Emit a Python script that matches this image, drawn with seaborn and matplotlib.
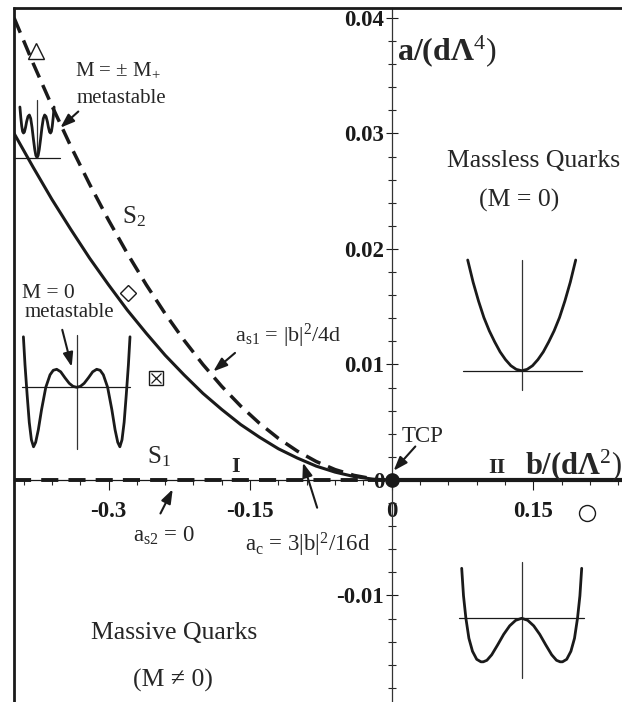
import matplotlib
matplotlib.use("Agg")
import matplotlib.pyplot as plt
import seaborn as sns
from matplotlib.ticker import MultipleLocator

# phase boundaries: b/(d L^2) vs a/(d L^4)
b_curve = [-0.40, -0.38, -0.36, -0.34, -0.32, -0.30, -0.28, -0.26, -0.24, -0.22, -0.20,
           -0.18, -0.16, -0.14, -0.12, -0.10, -0.08, -0.06, -0.04, -0.02, 0.0]
a_c = [0.0300, 0.0271, 0.0243, 0.0217, 0.0192, 0.0169, 0.0147, 0.0127, 0.0108, 0.0091, 0.0075,
       0.0061, 0.0048, 0.0037, 0.0027, 0.0019, 0.0012, 0.00068, 0.0003, 0.000075, 0.0]
a_s1 = [0.0400, 0.0361, 0.0324, 0.0289, 0.0256, 0.0225, 0.0196, 0.0169, 0.0144, 0.0121, 0.0100,
        0.0081, 0.0064, 0.0049, 0.0036, 0.0025, 0.0016, 0.0009, 0.0004, 0.0001, 0.0]
b_as2 = [-0.40, -0.005]
a_as2 = [0.0, 0.0]
b_second = [0.0, 0.25]
a_second = [0.0, 0.0]

# reference symbols
sym_triangle = (-0.377, 0.0371)
sym_diamond = (-0.279, 0.0162)
sym_boxx = (-0.250, 0.0088)
sym_circle = (0.207, -0.0029)

# potential sketches (left half, mirrored): M and V in sketch units
m_mplus = [-0.76, -0.72, -0.68, -0.64, -0.60, -0.56, -0.51, -0.46, -0.40, -0.34, -0.28, -0.22, -0.16, -0.10, -0.05, 0.0]
v_mplus = [1.01, 0.80, 0.63, 0.52, 0.49, 0.51, 0.60, 0.72, 0.82, 0.85, 0.78, 0.60, 0.37, 0.16, 0.04, 0.0]
m_meta0 = [-1.00, -0.97, -0.93, -0.89, -0.85, -0.81, -0.77, -0.72, -0.66, -0.58, -0.50, -0.44, -0.375, -0.30, -0.22, -0.14, -0.07, 0.0]
v_meta0 = [1.01, 0.45, -0.15, -0.70, -1.05, -1.19, -1.10, -0.85, -0.45, 0.00, 0.25, 0.34, 0.36, 0.31, 0.19, 0.08, 0.02, 0.0]
m_massless = [-1.0, -0.9, -0.8, -0.7, -0.6, -0.5, -0.4, -0.3, -0.2, -0.1, 0.0]
v_massless = [1.0, 0.80, 0.63, 0.48, 0.36, 0.26, 0.17, 0.10, 0.045, 0.012, 0.0]
m_massive = [-1.00, -0.97, -0.93, -0.88, -0.82, -0.75, -0.68, -0.64, -0.58, -0.50, -0.40, -0.30, -0.20, -0.10, 0.0]
v_massive = [1.00, 0.45, 0.00, -0.40, -0.66, -0.82, -0.87, -0.87, -0.84, -0.73, -0.53, -0.32, -0.15, -0.04, 0.0]

W, H = 622, 702


def mirror(m, v):
	mm = list(m) + [-x for x in m[-2::-1]]
	vv = list(v) + list(v[-2::-1])
	return mm, vv


def sketch(fig, cx, cy, sx, sy, m, v, hline, vline, yr=(-1.4, 1.3)):
	# cx, cy: pixel position of the sketch origin, sx, sy: pixels per unit
	x0, x1 = -1.25, 1.25
	y0, y1 = yr
	left = (cx + x0 * sx) / W
	top = cy - y1 * sy
	bottom = cy - y0 * sy
	axi = fig.add_axes([left, 1 - bottom / H, (x1 - x0) * sx / W, (bottom - top) / H])
	axi.set_xlim(x0, x1)
	axi.set_ylim(y0, y1)
	axi.axis('off')
	axi.plot(hline, [0, 0], color='k', lw=0.9)
	axi.plot([0, 0], vline, color='#333333', lw=0.9)
	mm, vv = mirror(m, v)
	sns.lineplot(x=mm, y=vv, ax=axi, color='k', lw=2.0, sort=False, estimator=None)
	return axi


def main():
	sns.set_theme(style="white")
	plt.rcParams['font.family'] = ['Liberation Serif', 'DejaVu Serif']
	plt.rcParams['mathtext.fontset'] = 'custom'
	plt.rcParams['mathtext.rm'] = 'Liberation Serif'
	plt.rcParams['mathtext.it'] = 'Liberation Serif:italic'
	plt.rcParams['mathtext.bf'] = 'Liberation Serif:bold'

	fig = plt.figure(figsize=(6.22, 7.02), dpi=100)
	ax = fig.add_axes([0.0227, -0.0128, 0.9865, 1.002])
	ax.set_xlim(-0.4, 0.25)
	ax.set_ylim(-0.02, 0.0409)
	ax.set_facecolor('white')

	# axes through the origin, plus the outer frame
	ax.spines['left'].set_position(('data', 0))
	ax.spines['bottom'].set_position(('data', 0))
	ax.spines['left'].set_color('#333333')
	ax.spines['left'].set_linewidth(0.9)
	ax.spines['bottom'].set_color('k')
	ax.spines['bottom'].set_linewidth(0.9)
	ax.spines['right'].set_visible(False)
	ax.spines['top'].set_color('k')
	ax.spines['top'].set_linewidth(2.0)
	ax.plot([0, 0], [0, 1], transform=ax.transAxes, color='k', lw=2.0, clip_on=False)

	ax.xaxis.set_major_locator(MultipleLocator(0.15))
	ax.xaxis.set_minor_locator(MultipleLocator(0.03))
	ax.yaxis.set_major_locator(MultipleLocator(0.01))
	ax.yaxis.set_minor_locator(MultipleLocator(0.002))
	ax.set_xticks([-0.3, -0.15, 0, 0.15])
	ax.set_xticklabels(['-0.3', '-0.15', '0', '0.15'])
	ax.set_yticks([-0.01, 0, 0.01, 0.02, 0.03, 0.04])
	ax.set_yticklabels(['-0.01', '0', '0.01', '0.02', '0.03', '0.04'])
	ax.tick_params(axis='x', which='major', direction='out', length=7, width=0.8, pad=8,
	               labelsize=16.5, colors='k', bottom=True)
	ax.tick_params(axis='x', which='minor', direction='out', length=3.6, width=0.8, bottom=True)
	ax.tick_params(axis='y', which='major', direction='inout', length=9, width=0.8, pad=1,
	               labelsize=16.5, colors='k', left=True)
	ax.tick_params(axis='y', which='minor', direction='inout', length=6, width=0.8, left=True)
	for lab in ax.get_xticklabels() + ax.get_yticklabels():
		lab.set_fontweight('bold')

	# phase boundaries
	sns.lineplot(x=b_curve, y=a_c, ax=ax, color='k', lw=2.2, estimator=None)
	sns.lineplot(x=b_curve[:-1], y=a_s1[:-1], ax=ax, color='k', lw=2.5, estimator=None)
	ax.lines[-1].set_dashes((4.6, 2.4))
	sns.lineplot(x=b_as2, y=a_as2, ax=ax, color='k', lw=2.8, estimator=None)
	ax.lines[-1].set_dashes((4.4, 2.6))
	sns.lineplot(x=b_second, y=a_second, ax=ax, color='k', lw=3.0, estimator=None)
	ax.plot([0], [0], 'o', color='k', ms=9.5, zorder=5, clip_on=False)

	# symbols
	mk = dict(color='k', mfc='white', mew=1.0, ls='none', zorder=6)
	ax.plot(*sym_triangle, marker='^', ms=11.5, **mk)
	ax.plot(*sym_diamond, marker='D', ms=8.5, **mk)
	ax.plot(*sym_boxx, marker='s', ms=10, **mk)
	ax.plot(*sym_boxx, marker='x', ms=6.5, color='k', mew=0.9, ls='none', zorder=7)
	ax.plot(*sym_circle, marker='o', ms=11.5, **mk)

	# labels
	ax.text(0.0056, 0.03636, r'$\mathbf{a/(d\Lambda}^{4}\mathrm{)}$', fontsize=23, va='baseline')
	ax.text(0.141, 0.00052, r'$\mathbf{b/(d\Lambda}^{2}\mathrm{)}$', fontsize=22, va='baseline')
	ax.text(-0.3355, 0.03506, r'M = ± $\mathrm{M_{+}}$', fontsize=15, va='baseline')
	ax.text(-0.3333, 0.03264, 'metastable', fontsize=15, va='baseline')
	ax.text(-0.2857, 0.02225, r'$\mathrm{S_{2}}$', fontsize=18, va='baseline')
	ax.text(-0.3916, 0.01576, 'M = 0', fontsize=15.5, va='baseline')
	ax.text(-0.3885, 0.01411, 'metastable', fontsize=15, va='baseline')
	ax.text(-0.166, 0.01195, r'$\mathrm{a_{s1}}$ = $\mathrm{|b|^{2}}$/4d', fontsize=16, va='baseline')
	ax.text(-0.2592, 0.00147, r'$\mathrm{S_{1}}$', fontsize=18, va='baseline')
	ax.text(-0.165, 0.00069, 'I', fontsize=16, fontweight='bold', ha='center', va='baseline')
	ax.text(0.1116, 0.00061, 'II', fontsize=16, fontweight='bold', ha='center', va='baseline')
	ax.text(0.0109, 0.00329, 'TCP', fontsize=16.5, va='baseline')
	ax.text(-0.2741, -0.00537, r'$\mathrm{a_{s2}}$ = 0', fontsize=16.5, va='baseline')
	ax.text(-0.1554, -0.00623, r'$\mathrm{a_{c}}$ = 3$\mathrm{|b|^{2}}$/16d', fontsize=16.5, va='baseline')
	ax.text(-0.2309, -0.0138, 'Massive Quarks', fontsize=18.5, ha='center', va='baseline')
	ax.text(-0.2317, -0.01792, '(M ≠ 0)', fontsize=18.5, ha='center', va='baseline')
	ax.text(0.0586, 0.0271, 'Massless Quarks', fontsize=18.5, va='baseline')
	ax.text(0.135, 0.02364, '(M = 0)', fontsize=18.5, ha='center', va='baseline')

	# arrows
	arr = dict(arrowstyle='-|>,head_length=0.7,head_width=0.25', color='k', lw=1.5,
	           shrinkA=0, shrinkB=0)
	ax.annotate('', xy=(-0.351, 0.0305), xytext=(-0.332, 0.0319), arrowprops=arr)
	ax.annotate('', xy=(-0.339, 0.0098), xytext=(-0.349, 0.0130), arrowprops=arr)
	ax.annotate('', xy=(-0.189, 0.0094), xytext=(-0.166, 0.0110), arrowprops=arr)
	ax.annotate('', xy=(-0.232, -0.0008), xytext=(-0.245, -0.0029), arrowprops=arr)
	ax.annotate('', xy=(-0.094, 0.0015), xytext=(-0.079, -0.0024), arrowprops=arr)
	ax.annotate('', xy=(0.002, 0.0008), xytext=(0.025, 0.0029), arrowprops=arr)

	# potential sketches
	sketch(fig, 37, 157.5, 22.5, 50, m_mplus, v_mplus, [-0.98, 1.0], [0, 1.15])
	sketch(fig, 76.7, 387.3, 53.3, 50, m_meta0, v_meta0, [-1.02, 1.0], [-1.23, 1.05])
	sketch(fig, 521.7, 370.7, 54, 110.7, m_massless, v_massless, [-1.08, 1.11], [-0.174, 1.0],
	       yr=(-0.3, 1.1))
	sketch(fig, 521.7, 618.3, 60, 50, m_massive, v_massive, [-1.05, 1.03], [-1.19, 1.13])

	fig.savefig('out.png', dpi=100)


if __name__ == "__main__":
	main()
